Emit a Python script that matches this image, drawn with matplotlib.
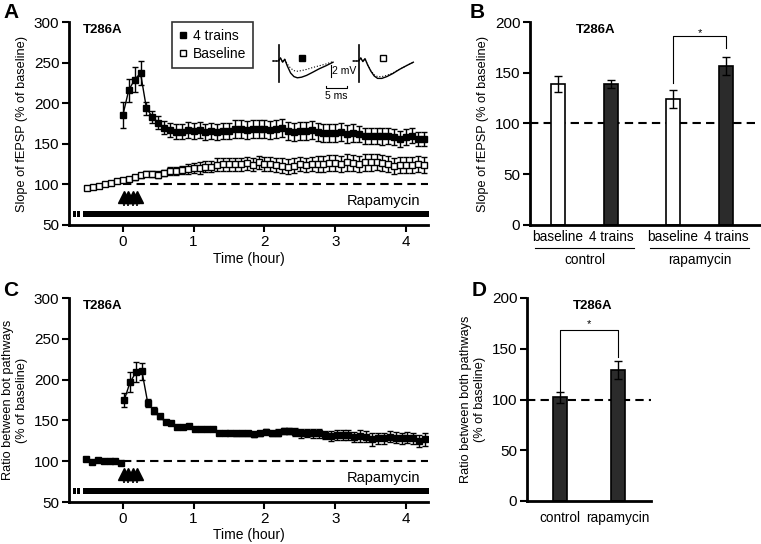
import numpy as np
import matplotlib.pyplot as plt
from matplotlib.lines import Line2D

plt.rcParams['font.family'] = ['Liberation Sans', 'DejaVu Sans']
plt.rcParams['font.size'] = 9.5

# ---- panel A data (5 min bins, time in hours) ----
base_t = [-0.5 + k / 12 for k in range(58)]
base_y = [95, 97, 98, 100, 102, 104, 105, 107, 109, 111, 113, 113, 112, 114, 116, 117, 118, 119,
          120, 120, 122, 122, 124, 125, 125, 125, 125, 126, 124, 127, 125, 125, 124, 123, 122, 123,
          125, 124, 125, 125, 125, 126, 126, 125, 127, 126, 125, 127, 127, 128, 126, 125, 123, 124,
          124, 124, 125, 124]
base_e = [2, 2, 2, 2, 2, 2, 2, 2, 3, 3, 3, 4, 4, 4, 5, 5, 5, 6, 6, 7, 7, 7, 8, 8, 8, 8, 8, 8, 8,
          8, 9, 9, 9, 9, 9, 9, 9, 9, 9, 10, 10, 10, 10, 10, 10, 10, 10, 10, 10, 10, 10, 10, 10, 10,
          10, 10, 10, 10]

tr_t = [k / 12 for k in range(52)]
tr_y = [185, 216, 229, 237, 194, 183, 176, 170, 167, 165, 165, 167,
        166, 167, 165, 166, 165, 166, 166, 168, 168, 167, 168, 168,
        168, 167, 168, 169, 166, 165, 166, 166, 167, 165, 163, 163,
        163, 165, 162, 163, 162, 160, 160, 160, 159, 160, 158, 156,
        158, 160, 156, 156]
tr_e = [16, 14, 15, 15, 8, 7, 8, 8, 9, 9, 9, 10,
        10, 10, 10, 10, 10, 10, 10, 11, 11, 11, 11, 11,
        11, 11, 11, 11, 11, 11, 11, 11, 11, 11, 11, 11,
        11, 11, 11, 11, 10, 10, 10, 10, 10, 10, 10, 10,
        10, 9, 9, 9]

# ---- panel C data ----
pre_t = [-0.5 + k / 12 - 0.02 for k in range(7)]
pre_y = [103, 99, 101, 100, 100, 100, 98]
pre_e = [1, 1, 1, 1, 1, 1, 1]
post_t = [k / 12 + 0.02 for k in range(52)]
post_y = [175, 197, 209, 210, 171, 162, 155, 148, 147, 142, 142, 143,
          140, 139, 139, 139, 135, 135, 135, 134, 134, 134, 133, 134,
          136, 134, 135, 137, 137, 136, 134, 135, 134, 134, 132, 131,
          132, 132, 132, 130, 131, 130, 127, 128, 128, 130, 129, 128,
          129, 128, 125, 127]
post_e = [8, 12, 12, 10, 5, 4, 3, 2, 2, 2, 2, 2,
          2, 2, 2, 2, 2, 2, 2, 3, 3, 3, 3, 3,
          3, 3, 4, 4, 4, 5, 5, 5, 5, 5, 5, 6,
          6, 6, 6, 6, 7, 7, 8, 7, 7, 7, 7, 7,
          7, 7, 7, 8]

# ---- panel B data ----
b_labels = ['baseline', '4 trains', 'baseline', '4 trains']
b_groups = ['control', 'rapamycin']
b_vals = [139, 139, 124, 157]
b_errs = [8, 4, 9, 9]

# ---- panel D data ----
d_labels = ['control', 'rapamycin']
d_vals = [102, 129]
d_errs = [5, 9]

# ---- inset traces (ms after stimulus, mV) ----
trace_t = [-1.4, -0.1, 0.4, 0.9, 1.4, 2.0, 2.8, 3.6, 4.4, 5.4, 6.6, 8.0, 9.6, 11.2, 12.9]
solid1 = [0, 0, 0.5, -0.2, 0.3, -0.8, -2.0, -2.6, -2.8, -2.7, -2.4, -1.9, -1.3, -0.8, -0.2]
dotted1 = [0, 0, 0.5, -0.2, 0.3, -0.5, -1.2, -1.6, -1.7, -1.6, -1.4, -1.1, -0.8, -0.5, -0.1]
solid2 = [0, 0, 0.5, -0.1, 0.4, -0.6, -1.7, -2.5, -2.9, -2.9, -2.6, -2.1, -1.4, -0.8, -0.2]
dotted2 = [0, 0, 0.5, -0.1, 0.4, -0.6, -1.6, -2.3, -2.6, -2.6, -2.4, -2.0, -1.4, -0.8, -0.2]

train_x = [0.02, 0.08, 0.14, 0.2]

W, H = 761, 544
fig = plt.figure(figsize=(W / 100, H / 100), dpi=100)


def px_axes(x0, y0, x1, y1):
    return fig.add_axes([x0 / W, 1 - y1 / H, (x1 - x0) / W, (y1 - y0) / H])


def style(ax):
    for s in ['top', 'right']:
        ax.spines[s].set_visible(False)
    for s in ['left', 'bottom']:
        ax.spines[s].set_linewidth(2)
    ax.tick_params(width=1.5, length=5, labelsize=11, direction='out', pad=2)


def time_panel(ax):
    style(ax)
    ax.set_xlim(-0.76, 4.31)
    ax.set_ylim(50, 300)
    ax.set_xticks([0, 1, 2, 3, 4])
    ax.set_yticks([50, 100, 150, 200, 250, 300])
    ax.set_xlabel('Time (hour)', labelpad=2, fontsize=10)
    ax.plot([0, 4.31], [100, 100], color='black', lw=1.5, dashes=(4, 2.5))
    # drug bar: two short pre-application blocks then continuous
    ax.broken_barh([(-0.71, 0.045), (-0.648, 0.05)], (60, 7.5), color='black', lw=0)
    ax.broken_barh([(-0.565, 4.9)], (60, 7.5), color='black', lw=0)
    ax.text(4.2, 79, 'Rapamycin', ha='right', va='center', fontsize=10.5)
    ax.vlines(train_x, 73, 84, color='black', lw=1.2)
    ax.plot(train_x, [84] * 4, '^', color='black', ms=8)
    ax.text(0.04, 0.96, 'T286A', transform=ax.transAxes, fontweight='bold', va='center')


# ---------------- A ----------------
axA = px_axes(69, 22, 428, 225)
time_panel(axA)
axA.errorbar(base_t, base_y, yerr=base_e, fmt='s', ms=4.5, mfc='white', mec='black', mew=1,
             ecolor='black', elinewidth=1, capsize=2, capthick=1)
axA.errorbar(tr_t, tr_y, yerr=tr_e, fmt='s-', ms=4.5, color='black', lw=1,
             ecolor='black', elinewidth=1, capsize=2, capthick=1)
axA.set_ylabel('Slope of fEPSP (% of baseline)', labelpad=4, fontsize=9.2)
handles = [Line2D([], [], ls='none', marker='s', ms=5, color='black'),
           Line2D([], [], ls='none', marker='s', ms=5, mfc='white', mec='black', mew=1)]
leg = axA.legend(handles, ['4 trains', 'Baseline'], loc='upper left', bbox_to_anchor=(0.287, 1.0),
                 fancybox=False, edgecolor='black', handlelength=0.6, handletextpad=0.4,
                 borderaxespad=0, fontsize=10, borderpad=0.5, labelspacing=0.3)
leg.get_frame().set_linewidth(1.2)

# inset traces
axI = px_axes(270, 40, 415, 100)
axI.set_xlim(0, 34.5)
axI.set_ylim(-6.5, 3.5)
axI.axis('off')
for x0, s, d in [(2.1, solid1, dotted1), (21.2, solid2, dotted2)]:
    axI.plot([x0 + t for t in trace_t], s, color='black', lw=1)
    axI.plot([x0 + t for t in trace_t], d, color='black', lw=0.8, ls=':')
    axI.plot([x0, x0], [2.7, -3.5], color='black', lw=1.2)
axI.plot([7.6], [0.5], 's', color='black', ms=5)
axI.plot([26.9], [0.5], 's', mfc='white', mec='black', ms=5, mew=1)
axI.plot([14.5, 14.5], [-0.67, -2.67], color='black', lw=0.8)
axI.plot([13.3, 13.3, 18.3, 18.3], [-4.2, -4.5, -4.5, -4.2], color='black', lw=0.8)
axI.text(14.8, -1.7, '2 mV', fontsize=7.5, va='center')
axI.text(15.8, -5.8, '5 ms', fontsize=7.5, ha='center', va='center')

# ---------------- B ----------------
axB = px_axes(530, 22, 760, 225)
style(axB)
pos_b = [0, 1, 2.17, 3.17]
axB.bar(pos_b, b_vals, width=0.25, color=['white', '#2b2b2b', 'white', '#2b2b2b'],
        edgecolor='black', linewidth=1.2, zorder=2)
axB.errorbar(pos_b, b_vals, yerr=b_errs, fmt='none', ecolor='black', elinewidth=1,
             capsize=3, capthick=1, zorder=3)
axB.set_xlim(-0.53, 3.81)
axB.set_ylim(0, 200)
axB.set_yticks([0, 50, 100, 150, 200])
axB.set_xticks([])
axB.axhline(100, color='black', lw=1.5, dashes=(4, 2.5), zorder=1)
axB.set_ylabel('Slope of fEPSP (% of baseline)', labelpad=4, fontsize=9.2)
axB.text(0.2, 0.96, 'T286A', transform=axB.transAxes, fontweight='bold', va='center')
for p, lab in zip(pos_b, b_labels):
    axB.text(p, -12, lab, ha='center', va='center', fontsize=9.8, clip_on=False)
for g, (a, b) in enumerate([(pos_b[0], pos_b[1]), (pos_b[2], pos_b[3])]):
    axB.plot([a - 0.43, b + 0.43], [-23, -23], color='black', lw=0.8, clip_on=False)
    axB.text((a + b) / 2, -34, b_groups[g], ha='center', va='center', fontsize=9.8)
axB.plot([pos_b[2], pos_b[2], pos_b[3], pos_b[3]], [140, 186, 186, 174], color='black', lw=0.8)
axB.text((pos_b[2] + pos_b[3]) / 2, 189, '*', ha='center', va='center', fontsize=8)

# ---------------- C ----------------
axC = px_axes(69, 298, 428, 502)
time_panel(axC)
axC.errorbar(pre_t, pre_y, yerr=pre_e, fmt='s-', ms=4.5, color='black', lw=1,
             ecolor='black', elinewidth=1, capsize=2, capthick=1)
axC.errorbar(post_t, post_y, yerr=post_e, fmt='s-', ms=4.5, color='black', lw=1,
             ecolor='black', elinewidth=1, capsize=2, capthick=1)
axC.set_ylabel('Ratio between bot pathways\n(% of baseline)', labelpad=4, fontsize=9.2)

# ---------------- D ----------------
axD = px_axes(527, 298, 651, 501)
style(axD)
pos_d = [0, 1]
axD.bar(pos_d, d_vals, width=0.24, color='#2b2b2b', edgecolor='black', linewidth=1.2, zorder=2)
axD.errorbar(pos_d, d_vals, yerr=d_errs, fmt='none', ecolor='black', elinewidth=1,
             capsize=3, capthick=1, zorder=3)
axD.set_xlim(-0.57, 1.57)
axD.set_ylim(0, 200)
axD.set_yticks([0, 50, 100, 150, 200])
axD.set_xticks([])
axD.axhline(100, color='black', lw=1.5, dashes=(4, 2.5), zorder=1)
axD.set_ylabel('Ratio between both pathways\n(% of baseline)', labelpad=4, fontsize=9.2)
axD.text(0.37, 0.96, 'T286A', transform=axD.transAxes, fontweight='bold', va='center')
for p, lab in zip(pos_d, d_labels):
    axD.text(p, -17, lab, ha='center', va='center', fontsize=9.8, clip_on=False)
axD.plot([0, 0, 1, 1], [107, 168, 168, 142], color='black', lw=0.8)
axD.text(0.5, 174, '*', ha='center', va='center', fontsize=8)

# panel letters
for lab, x, y in [('A', 3, 12), ('B', 470, 12), ('C', 3, 290), ('D', 472, 290)]:
    fig.text(x / W, 1 - y / H, lab, fontsize=15, fontweight='bold', va='center')

fig.savefig('out.png', dpi=100)
